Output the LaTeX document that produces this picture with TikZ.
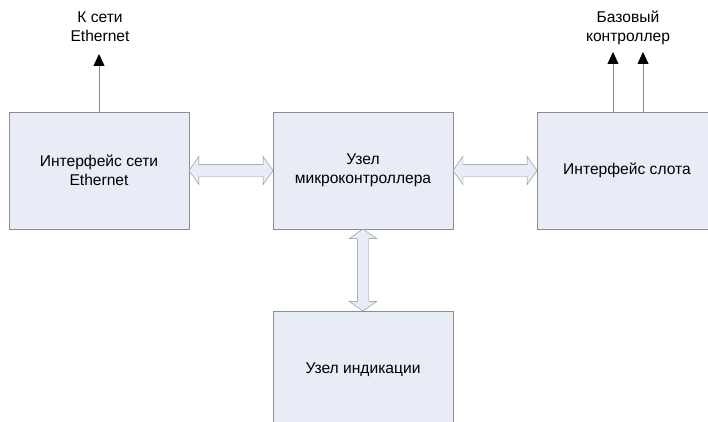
\documentclass[tikz,border=0pt]{standalone}
\usepackage{fontspec}
\setmainfont{Liberation Sans}
\usepackage{tikz}
\usetikzlibrary{arrows.meta}
\usetikzlibrary{shapes.arrows}
\usetikzlibrary{calc}
\definecolor{boxfill}{RGB}{231,236,247}
\definecolor{linegray}{RGB}{140,140,140}

\begin{document}
\begin{tikzpicture}[x=1pt, y=-1pt,
	block/.style={draw=linegray, fill=boxfill, minimum width=180pt, minimum height=117pt, align=center, inner sep=0pt},
	bus/.style={double arrow, draw=linegray, fill=boxfill, inner sep=0pt, double arrow head extend=8pt, double arrow tip angle=110},
	extline/.style={draw=linegray, -{Triangle[black, width=11pt, length=12pt]}}]
	\clip (0,0) rectangle (708,422);
	\fontsize{15.6}{19}\selectfont

	\node[block] (eth) at (99,170.5) {Интерфейс сети\\Ethernet};	% blocks
	\node[block] (mcu) at (363,170.5) {Узел\\микроконтроллера};
	\node[block] (slot) at (627,170.5) {Интерфейс слота};
	\node[block, minimum height=118pt] (ind) at (363,370) {Узел индикации};

	\node[align=center] (ethlbl) at (100,27) {К сети\\Ethernet};	% outputs
	\node[align=center] (slotlbl) at (628,28) {Базовый\\контроллер};
	\coordinate (ethout) at (99,54);
	\coordinate (slotoutA) at (613,52);
	\coordinate (slotoutB) at (643,52);

	\draw[extline] (eth.north) -- (ethout);
	\draw[extline] (slotoutA |- slot.north) -- (slotoutA);
	\draw[extline] (slotoutB |- slot.north) -- (slotoutB);

	\node[bus, minimum height=84pt] (busL) at ($(eth.east)!.5!(mcu.west)$) {\rule{0pt}{12pt}};	% buses
	\node[bus, minimum height=84pt] (busR) at ($(mcu.east)!.5!(slot.west)$) {\rule{0pt}{12pt}};
	\node[bus, minimum height=82pt, rotate=90] (busD) at ($(mcu.south)!.5!(ind.north)$) {\rule{0pt}{11pt}};
\end{tikzpicture}
\end{document}
